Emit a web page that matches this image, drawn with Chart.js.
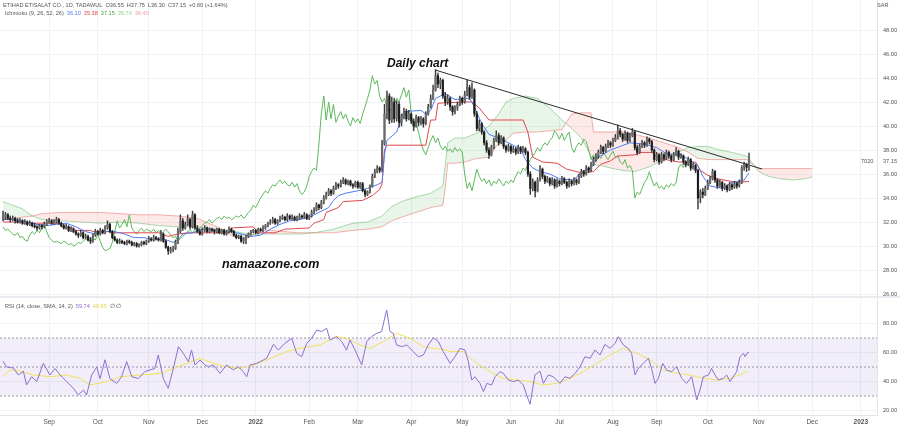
<!DOCTYPE html>
<html>
<head>
<meta charset="utf-8">
<script src="https://cdn.jsdelivr.net/npm/chart.js@4.4.1/dist/chart.umd.min.js"></script>
<style>
  body { margin: 0; background: #fff; width: 900px; height: 429px; overflow: hidden; position: relative; font-family: "Liberation Sans", Arial, sans-serif; }
  canvas { position: absolute; left: 0; }
  #main { top: 0; }
  #rsi { top: 298px; }
  .t { position: absolute; white-space: nowrap; font-size: 5.6px; line-height: 6px; color: #555; }
  .t span { margin-left: 3px; }
  .big { position: absolute; white-space: nowrap; font-weight: bold; font-style: italic; color: #111; }
  #sep { position: absolute; left: 0; top: 296px; width: 900px; height: 2px; background: #e9ebf0; }
</style>
</head>
<body>
<canvas id="main" width="900" height="298"></canvas>
<canvas id="rsi" width="900" height="131"></canvas>
<div id="sep"></div>

<div class="t" style="left:3px;top:2px">ETIHAD ETISALAT CO., 1D, TADAWUL<span>O36.55</span><span>H37.75</span><span>L36.30</span><span>C37.15</span><span>+0.60 (+1.64%)</span></div>
<div class="t" style="left:5px;top:10px">Ichimoku (9, 26, 52, 26)<span style="color:#4d7cf2">36.10</span><span style="color:#e0474c">35.38</span><span style="color:#3f9f45">37.15</span><span style="color:#8fcf92">35.74</span><span style="color:#f0a0a0">36.45</span></div>
<div class="t" style="left:5px;top:303px">RSI (14, close, SMA, 14, 2)<span style="color:#8a6fd1">59.74</span><span style="color:#e8d740">46.95</span><span>&#8709; &#8709;</span></div>
<div class="t" style="left:877px;top:2px">SAR</div>
<div class="t" style="left:861px;top:158px">7020</div>
<div class="t" style="left:883px;top:158px">37.15</div>
<div class="big" style="left:387px;top:57px;font-size:12px;line-height:12px">Daily chart</div>
<div class="big" style="left:222px;top:258px;font-size:12.5px;line-height:12px">namaazone.com</div>

<script>
// daily candles [open, high, low, close], one per bar
const candles = [
  [32.3,32.9,32.1,32.4],[32.4,32.8,32.2,32.6],[32.6,32.7,32.2,32.3],[32.3,32.5,32.0,32.2],[32.2,32.5,32.1,32.3],[32.3,32.4,31.9,32.1],
  [32.1,32.3,31.9,32.0],[32.0,32.3,31.9,32.1],[32.1,32.2,31.8,31.9],[31.9,32.2,31.8,32.0],[32.0,32.1,31.7,31.8],[31.8,32.1,31.7,31.9],
  [31.9,32.0,31.6,31.7],[31.7,31.9,31.5,31.6],[31.6,31.7,31.3,31.5],[31.5,31.8,31.4,31.7],[31.7,31.8,31.4,31.6],[31.6,32.0,31.5,31.8],
  [31.8,32.2,31.7,32.0],[32.0,32.3,31.9,32.1],[32.1,32.2,31.8,31.9],[31.9,32.2,31.8,32.0],[32.0,32.4,31.9,32.2],[32.2,32.3,31.8,31.9],
  [31.9,32.0,31.6,31.7],[31.7,31.8,31.4,31.5],[31.5,31.8,31.4,31.6],[31.6,31.7,31.2,31.3],[31.3,31.6,31.2,31.4],[31.4,31.5,31.1,31.2],
  [31.2,31.3,30.9,31.0],[31.0,31.1,30.7,30.9],[30.9,31.3,30.8,31.1],[31.1,31.2,30.6,30.7],[30.7,31.0,30.6,30.8],[30.8,30.9,30.4,30.5],
  [30.5,30.7,30.2,30.4],[30.4,31.0,30.3,30.9],[30.9,31.4,30.8,31.2],[31.2,31.3,30.9,31.0],[31.0,31.5,30.9,31.3],[31.3,31.4,31.0,31.1],
  [31.1,31.7,31.0,31.5],[31.5,32.1,31.4,31.8],[31.8,31.9,31.1,31.2],[31.2,31.3,30.6,30.7],[30.7,30.8,30.4,30.5],[30.5,30.6,30.2,30.3],
  [30.3,30.6,30.2,30.4],[30.4,30.5,30.2,30.3],[30.3,30.4,30.1,30.2],[30.2,30.5,30.1,30.4],[30.4,30.5,30.2,30.3],[30.3,30.4,30.0,30.1],
  [30.1,30.3,30.0,30.2],[30.2,30.3,29.9,30.0],[30.0,30.2,29.9,30.1],[30.1,30.4,30.0,30.3],[30.3,30.4,30.1,30.2],[30.2,30.5,30.1,30.4],
  [30.4,30.8,30.3,30.6],[30.6,30.7,30.4,30.5],[30.5,30.9,30.4,30.7],[30.7,30.8,30.5,30.6],[30.6,30.7,30.4,30.5],[30.5,31.3,30.4,31.0],
  [31.0,31.1,30.3,30.4],[30.4,30.5,29.8,29.9],[29.9,30.0,29.3,29.6],[29.6,29.9,29.4,29.7],[29.7,30.0,29.5,29.8],[29.8,30.5,29.7,30.3],
  [30.3,31.5,30.2,31.2],[31.2,32.6,31.1,32.1],[32.1,32.3,31.3,31.5],[31.5,32.0,31.4,31.8],[31.8,32.6,31.7,32.2],[32.2,32.3,31.4,31.6],
  [31.6,32.9,31.5,32.6],[32.6,32.7,31.4,31.5],[31.5,31.7,31.1,31.2],[31.2,31.4,30.9,31.0],[31.0,31.5,30.9,31.3],[31.3,31.7,31.2,31.5],
  [31.5,31.6,31.1,31.2],[31.2,31.5,31.1,31.4],[31.4,31.5,31.2,31.3],[31.3,31.4,31.0,31.2],[31.2,31.5,31.1,31.4],[31.4,31.5,31.0,31.1],
  [31.1,31.4,31.0,31.3],[31.3,31.4,30.9,31.0],[31.0,31.3,30.9,31.2],[31.2,31.6,31.1,31.4],[31.4,31.5,31.1,31.2],[31.2,31.3,30.8,30.9],
  [30.9,31.0,30.6,30.7],[30.7,30.9,30.6,30.8],[30.8,30.9,30.3,30.4],[30.4,30.7,30.2,30.6],[30.6,30.9,30.2,30.8],[30.8,31.1,30.7,31.0],
  [31.0,31.3,30.9,31.2],[31.2,31.4,31.1,31.3],[31.3,31.4,31.0,31.1],[31.1,31.5,31.0,31.4],[31.4,31.5,31.2,31.3],[31.3,31.7,31.2,31.5],
  [31.5,31.8,31.4,31.7],[31.7,32.0,31.6,31.9],[31.9,32.2,31.8,32.0],[32.0,32.4,31.9,32.2],[32.2,32.3,31.8,31.9],[31.9,32.2,31.8,32.1],
  [32.1,32.5,32.0,32.3],[32.3,32.6,32.2,32.4],[32.4,32.5,32.1,32.2],[32.2,32.7,32.1,32.5],[32.5,32.6,32.2,32.3],[32.3,32.6,32.2,32.4],
  [32.4,32.5,32.1,32.2],[32.2,32.5,32.1,32.3],[32.3,32.7,32.2,32.5],[32.5,32.6,32.3,32.4],[32.4,32.8,32.3,32.6],[32.6,32.7,32.2,32.3],
  [32.3,32.6,32.2,32.5],[32.5,33.0,32.4,32.8],[32.8,33.2,32.7,33.0],[33.0,33.6,32.9,33.4],[33.4,33.5,33.0,33.2],[33.2,33.8,33.1,33.6],
  [33.6,34.2,33.5,34.0],[34.0,34.5,33.9,34.3],[34.3,34.8,34.2,34.6],[34.6,34.7,34.2,34.4],[34.4,35.0,34.3,34.8],[34.8,35.3,34.7,35.1],
  [35.1,35.2,34.8,35.0],[35.0,35.5,34.9,35.3],[35.3,35.7,35.2,35.5],[35.5,35.6,35.1,35.2],[35.2,35.5,35.1,35.4],[35.4,35.5,35.0,35.1],
  [35.1,35.2,34.8,35.0],[35.0,35.4,34.9,35.3],[35.3,35.4,34.8,34.9],[34.9,35.3,34.8,35.2],[35.2,35.3,34.5,34.6],[34.6,34.7,34.1,34.3],
  [34.3,34.6,34.2,34.5],[34.5,35.1,34.4,35.0],[35.0,36.0,34.9,35.8],[35.8,36.4,35.7,36.2],[36.2,36.7,36.1,36.5],[36.5,36.6,36.1,36.3],
  [36.3,38.8,36.2,38.5],[38.5,41.8,38.4,41.0],[41.0,42.9,40.6,42.5],[42.5,42.7,40.2,40.5],[40.5,42.4,40.3,42.0],[42.0,42.3,40.3,40.6],
  [40.6,42.1,40.4,41.8],[41.8,42.0,39.9,40.3],[40.3,41.0,40.0,40.8],[40.8,41.5,40.6,41.2],[41.2,41.4,40.4,40.6],[40.6,41.3,40.5,41.0],
  [41.0,41.1,40.2,40.4],[40.4,40.6,39.6,40.0],[40.0,40.9,39.9,40.7],[40.7,40.8,40.0,40.3],[40.3,40.8,40.1,40.6],[40.6,40.7,39.9,40.2],
  [40.2,41.2,40.1,41.0],[41.0,41.8,40.9,41.6],[41.6,42.6,41.5,42.3],[42.3,43.4,42.2,43.0],[43.0,44.7,42.9,44.2],[44.2,44.4,43.2,43.5],
  [43.5,44.0,43.1,43.8],[43.8,43.9,42.3,42.5],[42.5,42.8,41.7,42.0],[42.0,42.6,41.8,42.3],[42.3,42.4,41.3,41.6],[41.6,41.7,40.9,41.2],
  [41.2,41.7,41.0,41.5],[41.5,42.0,41.3,41.8],[41.8,42.5,41.7,42.3],[42.3,42.4,41.8,42.0],[42.0,42.9,41.9,42.6],[42.6,43.8,42.5,43.2],
  [43.2,43.4,42.2,42.4],[42.4,43.6,42.3,43.0],[43.0,43.1,40.8,41.0],[41.0,41.2,39.6,39.8],[39.8,40.5,39.6,40.2],[40.2,40.3,39.3,39.5],
  [39.5,39.6,38.4,38.6],[38.6,38.8,37.8,38.0],[38.0,38.2,37.3,37.6],[37.6,38.4,37.5,38.2],[38.2,39.0,38.1,38.8],[38.8,39.6,38.7,39.2],
  [39.2,39.4,38.4,38.6],[38.6,39.2,38.5,39.0],[39.0,39.1,38.1,38.3],[38.3,38.4,37.8,38.0],[38.0,38.5,37.9,38.3],[38.3,38.4,37.7,37.9],
  [37.9,38.3,37.8,38.1],[38.1,38.2,37.6,37.8],[37.8,38.4,37.7,38.2],[38.2,38.3,37.7,37.9],[37.9,38.3,37.8,38.1],[38.1,38.2,37.6,37.8],
  [37.8,37.9,35.8,36.0],[36.0,36.2,34.3,34.8],[34.8,35.6,34.6,35.3],[35.3,35.4,34.1,34.6],[34.6,35.7,34.5,35.5],[35.5,36.7,35.4,36.4],
  [36.4,36.5,35.6,35.8],[35.8,35.9,35.2,35.4],[35.4,35.8,35.3,35.6],[35.6,35.7,35.0,35.2],[35.2,35.7,35.1,35.5],[35.5,35.6,34.8,35.0],
  [35.0,35.6,34.9,35.4],[35.4,35.5,35.0,35.2],[35.2,35.8,35.1,35.6],[35.6,35.7,35.2,35.3],[35.3,35.4,34.8,35.0],[35.0,35.6,34.9,35.4],
  [35.4,35.5,35.0,35.2],[35.2,35.7,35.1,35.5],[35.5,35.6,35.1,35.3],[35.3,36.0,35.2,35.8],[35.8,36.4,35.7,36.2],[36.2,36.3,35.8,36.0],
  [36.0,36.7,35.9,36.5],[36.5,36.6,36.1,36.3],[36.3,37.0,36.2,36.8],[36.8,37.4,36.7,37.2],[37.2,37.7,37.1,37.5],[37.5,38.0,37.3,37.8],
  [37.8,38.4,37.7,38.2],[38.2,38.3,37.7,37.9],[37.9,38.5,37.8,38.3],[38.3,38.8,38.2,38.6],[38.6,38.7,38.2,38.4],[38.4,39.0,38.3,38.8],
  [38.8,39.3,38.7,39.0],[39.0,40.1,38.9,39.6],[39.6,39.8,39.1,39.3],[39.3,39.4,38.7,38.9],[38.9,39.6,38.8,39.4],[39.4,39.5,38.6,38.8],
  [38.8,39.4,38.7,39.2],[39.2,39.8,39.1,39.5],[39.5,39.6,38.0,38.2],[38.2,38.4,37.6,37.8],[37.8,38.5,37.7,38.3],[38.3,38.8,38.2,38.6],
  [38.6,38.7,38.2,38.4],[38.4,39.1,38.3,38.9],[38.9,39.0,38.5,38.7],[38.7,38.8,37.8,38.0],[38.0,38.1,37.0,37.2],[37.2,37.8,37.1,37.6],
  [37.6,37.7,36.8,37.0],[37.0,37.8,36.9,37.6],[37.6,37.7,37.1,37.3],[37.3,38.0,37.2,37.8],[37.8,37.9,37.3,37.5],[37.5,37.6,37.0,37.2],
  [37.2,37.8,37.1,37.6],[37.6,38.2,37.5,37.9],[37.9,38.0,37.2,37.4],[37.4,37.7,37.3,37.5],[37.5,37.6,36.8,37.0],[37.0,37.1,36.6,36.8],
  [36.8,37.4,36.7,37.2],[37.2,37.3,36.3,36.5],[36.5,36.9,36.4,36.7],[36.7,36.8,36.1,36.3],[36.3,36.4,33.1,34.0],[34.0,34.7,33.6,34.5],
  [34.5,34.8,34.0,34.3],[34.3,35.0,34.2,34.8],[34.8,35.5,34.7,35.3],[35.3,35.8,35.2,35.6],[35.6,36.4,35.5,36.2],[36.2,36.3,35.3,35.5],
  [35.5,35.6,34.8,35.0],[35.0,35.5,34.9,35.3],[35.3,35.4,34.6,34.8],[34.8,35.2,34.7,35.0],[35.0,35.1,34.5,34.7],[34.7,35.3,34.6,35.1],
  [35.1,35.2,34.7,34.9],[34.9,35.4,34.8,35.2],[35.2,35.3,34.8,35.0],[35.0,35.5,34.9,35.3],[35.3,36.7,35.2,36.5],[36.5,37.0,36.3,36.8],
  [36.8,36.9,36.2,36.55],[36.55,37.75,36.30,37.15]
];

// ichimoku lines: [bar, value]
const tenkan = [[0,32.2],[5,32.2],[10,32.0],[14,31.8],[18,31.7],[22,31.8],[26,31.9],[30,31.6],[34,31.2],[38,31.0],[42,31.2],[46,31.2],
  [50,31.0],[54,30.7],[58,30.7],[62,30.5],[66,30.6],[70,30.3],[72,30.5],[74,31.0],[78,31.1],[82,31.4],[86,31.4],[90,31.2],[94,31.2],
  [98,31.0],[102,30.8],[106,30.9],[110,31.4],[114,31.8],[118,32.1],[122,32.2],[126,32.4],[130,32.8],[134,33.2],[136,33.8],[138,34.2],
  [141,34.4],[146,34.6],[150,34.8],[154,35.1],[156,35.3],[157,37.6],[158,38.8],[162,39.5],[165,41.2],[172,41.3],[174,41.0],[176,41.3],
  [178,42.3],[182,42.7],[186,42.2],[190,42.3],[192,42.3],[194,41.6],[197,40.2],[200,39.3],[204,39.0],[208,38.6],[213,38.1],[215,37.2],
  [218,36.5],[221,36.2],[225,36.0],[229,35.6],[235,35.5],[238,36.2],[242,36.5],[245,37.4],[250,38.0],[254,38.3],[258,38.6],[264,38.5],
  [269,38.2],[273,37.7],[279,37.6],[283,37.1],[286,36.7],[288,35.8],[291,35.0],[296,34.8],[300,35.3],[305,35.5],[307,36.1]];
const kijun = [[0,32.0],[7,32.0],[8,31.9],[23,31.9],[24,31.6],[29,31.5],[30,31.3],[36,31.3],[37,31.2],[44,31.2],[45,31.1],[64,31.1],
  [68,30.8],[72,31.0],[76,31.1],[93,31.1],[94,31.5],[103,31.6],[105,31.1],[112,31.1],[116,31.4],[126,31.5],[128,31.9],[132,32.2],
  [133,32.8],[138,33.2],[140,33.7],[148,33.8],[152,34.2],[155,34.7],[156,35.2],[157,38.0],[158,38.4],[174,38.4],[175,39.5],[176,40.5],
  [178,40.5],[179,41.9],[190,42.0],[193,42.0],[196,41.5],[200,40.5],[214,40.5],[216,39.5],[218,37.4],[222,37.0],[228,36.9],[232,36.4],
  [238,36.1],[243,36.2],[246,36.8],[250,37.1],[253,37.5],[260,37.6],[262,37.8],[267,37.8],[270,37.3],[278,37.0],[285,37.0],[287,36.3],
  [290,35.9],[294,35.6],[302,35.3],[307,35.38]];

// cloud, already shifted 26 bars forward
const spanBars = [0,4,8,12,16,24,32,40,48,56,64,72,80,88,94,98,102,106,110,116,122,128,136,144,150,156,160,164,170,176,
  181,182,183,186,190,195,200,204,207,210,215,220,225,230,234,238,242,243,246,250,255,260,266,272,278,282,286,290,295,300,
  306,308,311,315,320,325,330,333];
const spanA = [33.7,33.4,33.1,32.5,32.2,32.1,32.0,31.9,32.0,31.9,31.7,31.6,31.6,31.4,31.3,31.1,31.0,31.0,31.0,31.0,
  31.0,31.1,31.4,31.9,32.0,32.5,33.3,33.7,34.1,34.4,35.0,36.8,38.6,39.0,39.0,39.4,40.0,41.0,42.0,42.3,
  42.5,42.3,41.5,40.5,39.8,39.0,37.5,36.8,36.7,36.5,36.3,36.2,36.6,37.2,37.8,38.2,38.3,38.3,38.0,37.8,
  37.5,37.0,36.2,35.8,35.6,35.5,35.6,35.74];
const spanB = [32.3,32.3,32.4,32.5,32.7,32.8,32.8,32.8,32.7,32.6,32.6,32.5,32.3,31.6,30.9,30.6,30.8,31.3,31.3,31.2,
  31.1,31.1,31.1,31.3,31.4,31.6,32.1,32.4,32.8,33.2,33.4,34.8,36.9,36.9,37.0,37.3,37.4,38.6,38.8,39.4,
  39.5,39.5,39.6,39.7,41.0,41.1,41.1,39.5,39.5,39.5,39.5,39.3,39.0,38.6,38.2,37.8,37.3,37.2,37.2,37.2,
  37.2,36.9,36.45,36.45,36.45,36.45,36.45,36.45];

// drawn trend line: [bar, price]
const trendline = [[177.8,44.67],[312.3,36.42]];

// RSI(14) and its SMA: [bar, value]
const rsi = [[0,54],[1.5,50],[4.3,49.3],[6.3,44.5],[8.4,47],[9.7,37.6],[11.8,43.3],[13.9,40],[16.6,52.5],[19.3,44.5],[21.4,49],
  [23.5,44.5],[26.2,40],[29,35.3],[31,30.7],[33.1,34.1],[34.4,30.7],[36.5,44.5],[38.6,50],[39.9,42],[42,55],[44,42],[46.8,38.7],
  [48.8,43.3],[50.9,53.7],[53,43.3],[55.7,42],[58.4,46.8],[60.5,48],[62.5,49],[63.9,58.3],[66,42],[68,35.3],[70.1,49],[72.2,64],
  [74.2,59.4],[76.3,53.7],[77.6,61.7],[79,51.4],[81.1,54.8],[83.1,51.4],[84.5,50.2],[86.6,51.4],[89.3,45.6],[92,51.4],[94.8,48],
  [96.8,50.2],[98.9,46.8],[100.3,43.3],[101.7,51.4],[104.4,52.5],[107.1,54.8],[108.5,56],[111.3,65.6],[113.3,61.7],[116,66.3],
  [118.8,69.8],[120.9,59.4],[122.9,57.1],[125,66.3],[127,69.8],[129.1,75.5],[131.1,74.4],[133.2,76.7],[134.6,68.6],[136,69.8],
  [137.3,70.9],[139.4,67.5],[141.4,61.7],[142.8,68.6],[144.9,61.7],[147.6,51.4],[149.7,67.5],[151.7,71],[153.8,73.2],[155.8,74.4],
  [157.2,84.7],[157.9,89.3],[159.3,74.4],[160.6,73.2],[162,65.2],[164.1,64],[166.1,65.2],[168.9,60.6],[170.9,57],[173,58.3],
  [175,65.2],[177.1,70.2],[179.2,67.5],[181.2,60.6],[184,52.5],[186,57.1],[188.1,62.9],[190.1,61.7],[191.5,53.7],[192.9,41],
  [194.2,43.3],[196.3,38.7],[197.7,33],[199.1,38.7],[201.1,37.6],[202.5,43.3],[204.5,46.8],[205.9,45.6],[208,41],[210,39.9],
  [212.1,41],[214.1,37.6],[215.5,30.7],[216.9,24.3],[218.9,44.5],[221,47.2],[222.4,38.7],[224.4,44.5],[226.5,43.3],[229.2,38.7],
  [231.3,43.3],[233.3,42.2],[235.4,45.6],[237.5,50.2],[239.5,57.1],[241.6,56],[243.6,61.7],[245.7,58.3],[247.7,65.6],[249.8,62.9],
  [251.9,66.3],[253.2,70.9],[255.3,65.2],[257.3,62.9],[258.7,59.4],[260.1,44.5],[261.4,49],[263.5,52.5],[265.6,56],[266.9,49],
  [268.3,38.7],[269.7,42.2],[271.5,52.5],[273.1,47.9],[275.2,46.8],[277.2,50.2],[279.3,42.2],[281.3,38.7],[283.4,43.3],[285.5,27.2],
  [286.8,34.1],[288.2,43.3],[290.3,44.5],[291.6,49],[293,44.5],[294.4,41],[296.4,42.2],[297.8,44.5],[299.2,39.9],[300.5,43.3],
  [301.9,46.8],[303.3,57.1],[304.7,59.4],[305.4,57.1],[306.5,60.1],[307,59.74]];
const rsiSma = [[0,43.3],[2.9,48],[7,47.3],[12.5,44.5],[19.3,43.3],[26.2,44.5],[31.7,42.2],[35.8,37.6],[42.7,39.9],[48.2,43.3],
  [56.4,44.5],[64.6,45.6],[70.1,49],[75.6,52.5],[81.1,56],[86.6,52.5],[92,50.2],[97.5,49],[103,51.4],[108.5,54.8],[116.7,60.6],
  [122.2,62.9],[130.5,65.2],[137.3,70.9],[141.4,69.8],[146.9,65.2],[151,62.9],[156.5,67.5],[162,73.2],[167.5,69.8],[173,64],
  [177.1,62.9],[182.6,61.7],[184,60.6],[189.4,60.6],[195,52.5],[200.4,46.8],[205.9,42.2],[211.4,41],[216.9,39.9],[222.4,37.6],
  [227.8,38.7],[233.3,42.2],[238.8,46.8],[244.3,52.5],[249.8,58.3],[255.3,62.9],[260.8,59.4],[266.3,55],[271.7,47.9],[277.2,45.6],
  [282.7,44.5],[288.2,42.2],[293.7,41],[299.2,42.2],[304.7,45.6],[306.5,46.95]];

// axis labels
const monthBars = [19,39,60,82,104,126,146,168,189,209,229,251,269,290,311,333,353];
const monthLabels = ['Sep','Oct','Nov','Dec','2022','Feb','Mar','Apr','May','Jun','Jul','Aug','Sep','Oct','Nov','Dec','2023'];
const priceTicks = [26,28,30,32,34,36,38,40,42,44,46,48];
const rsiTicks = [20,40,60,80];
const rsiLevels = [70,50,30];

const X_MIN = -1.23, X_MAX = 359.67;
const GRID = '#f0f2f6';
Chart.defaults.font.family = '"Liberation Sans", Arial, sans-serif';

function pts(arr) {
    return arr.map(p => ({ x: p[0], y: p[1] }));
}
function fixY(w) {
    return function (s) { s.width = w; s.paddingTop = 0; s.paddingBottom = 0; };
}
function fixX(h) {
    return function (s) { s.height = h; s.paddingLeft = 0; s.paddingRight = 0; };
}
function line(data, color, extra) {
    return Object.assign({ type: 'line', data: data, borderColor: color, borderWidth: 1, pointRadius: 0, tension: 0, fill: false }, extra || {});
}

const bodies = candles.map((c, i) => ({ x: i, y: [c[0], c[3]] }));
const wicks = candles.map((c, i) => ({ x: i, y: [c[2], c[1]] }));
const bodyColors = candles.map(c => c[3] >= c[0] ? '#6a6a6a' : '#1c1c1c');
// chikou = close plotted 26 bars back
const chikou = candles.slice(26).map((c, i) => ({ x: i, y: c[3] }));

new Chart(document.getElementById('main'), {
    type: 'bar',
    data: {
        datasets: [
            { type: 'bar', data: bodies, backgroundColor: bodyColors, barThickness: 1.5, grouped: false, order: 0 },
            { type: 'bar', data: wicks, backgroundColor: '#3a3a3a', barThickness: 0.8, grouped: false, order: 1 },
            line(pts(trendline), '#2b2b2b', { order: 2 }),
            line(pts(tenkan), '#4d7cf2', { order: 3 }),
            line(pts(kijun), '#e0474c', { order: 3 }),
            line(chikou, '#5cb85c', { order: 3 }),
            line(spanBars.map((b, i) => ({ x: b, y: spanA[i] })), 'rgba(76,175,80,0.45)', {
                order: 5,
                fill: { target: '+1', above: 'rgba(76,175,80,0.13)', below: 'rgba(239,83,80,0.13)' }
            }),
            line(spanBars.map((b, i) => ({ x: b, y: spanB[i] })), 'rgba(239,83,80,0.45)', { order: 5 })
        ]
    },
    options: {
        responsive: false,
        animation: false,
        devicePixelRatio: 1,
        events: [],
        layout: { padding: 0 },
        plugins: { legend: { display: false }, tooltip: { enabled: false } },
        scales: {
            x: {
                type: 'linear', min: X_MIN, max: X_MAX, offset: false,
                afterBuildTicks: s => { s.ticks = monthBars.map(v => ({ value: v })); },
                ticks: { display: false },
                grid: { color: GRID, drawTicks: false, offset: false },
                border: { display: false },
                afterFit: fixX(0)
            },
            y: {
                position: 'right', min: 25.667, max: 50.5,
                afterBuildTicks: s => { s.ticks = priceTicks.map(v => ({ value: v })); },
                ticks: { callback: v => v.toFixed(2), font: { size: 5.6 }, color: '#555', padding: 6 },
                grid: { color: GRID, drawTicks: false },
                border: { color: '#e3e5ea' },
                afterFit: fixY(23)
            }
        }
    }
});

const rsiDatasets = [
    line(pts(rsi), '#8a6fd1', { order: 0 }),
    line(pts(rsiSma), '#f2e15a', { order: 1 })
];
rsiLevels.forEach((lv, k) => {
    rsiDatasets.push(line([{ x: X_MIN, y: lv }, { x: X_MAX, y: lv }], 'rgba(120,123,134,0.75)', {
        order: 4,
        borderDash: [2, 2],
        fill: k === 0 ? { value: rsiLevels[2] } : false,
        backgroundColor: 'rgba(126,87,194,0.1)'
    }));
});

new Chart(document.getElementById('rsi'), {
    type: 'line',
    data: { datasets: rsiDatasets },
    options: {
        responsive: false,
        animation: false,
        devicePixelRatio: 1,
        events: [],
        layout: { padding: 0 },
        plugins: { legend: { display: false }, tooltip: { enabled: false } },
        scales: {
            x: {
                type: 'linear', min: X_MIN, max: X_MAX,
                afterBuildTicks: s => { s.ticks = monthBars.map(v => ({ value: v })); },
                ticks: {
                    callback: v => monthLabels[monthBars.indexOf(v)],
                    maxRotation: 0, autoSkip: false, padding: 3, color: '#555',
                    font: ctx => ({ size: 6.5, weight: /^20/.test(monthLabels[ctx.index] || '') ? 'bold' : 'normal' })
                },
                grid: { color: GRID, drawTicks: false },
                border: { color: '#e3e5ea' },
                afterFit: fixX(14)
            },
            y: {
                position: 'right', min: 16.9, max: 97.59,
                afterBuildTicks: s => { s.ticks = rsiTicks.map(v => ({ value: v })); },
                ticks: { callback: v => v.toFixed(2), font: { size: 5.6 }, color: '#555', padding: 6 },
                grid: { color: GRID, drawTicks: false },
                border: { color: '#e3e5ea' },
                afterFit: fixY(23)
            }
        }
    }
});
</script>
</body>
</html>
